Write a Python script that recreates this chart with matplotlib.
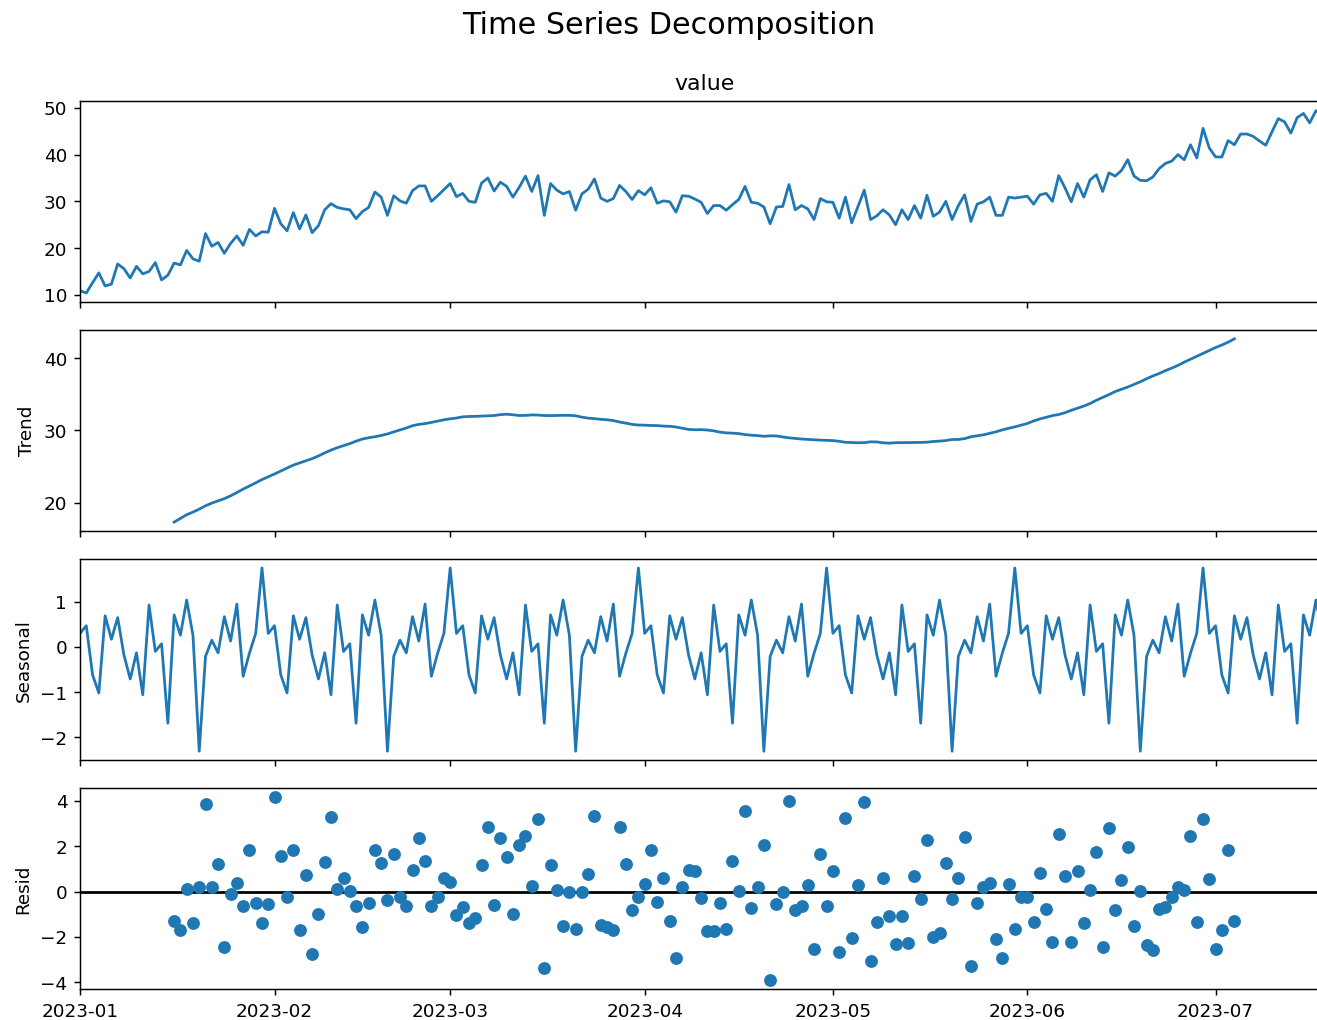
import numpy as np
import pandas as pd
import matplotlib
matplotlib.use("Agg")
from matplotlib import pyplot as plt
import matplotlib.dates as mdates

# daily series, 200 days from 2023-01-01, period 30
start_date = "2023-01-01"
period = 30

observed = [
    10.9, 10.4, 12.6, 14.7, 11.9, 12.3, 16.6, 15.6, 13.6, 16.1,
    14.5, 15.0, 16.9, 13.2, 14.2, 16.8, 16.4, 19.5, 17.7, 17.2,
    23.1, 20.4, 21.2, 18.9, 21.0, 22.6, 20.6, 24.0, 22.6, 23.5,
    23.4, 28.5, 25.2, 23.7, 27.6, 24.1, 27.1, 23.3, 24.8, 28.2,
    29.5, 28.7, 28.4, 28.2, 26.3, 27.8, 28.7, 32.0, 30.9, 27.0,
    31.2, 30.1, 29.6, 32.3, 33.3, 33.3, 30.0, 31.2, 32.5, 33.8,
    31.0, 31.7, 30.0, 29.8, 33.9, 35.0, 32.2, 34.1, 33.2, 30.9,
    33.0, 35.4, 32.1, 35.5, 27.0, 33.8, 32.4, 31.6, 32.1, 28.1,
    31.6, 32.6, 34.8, 30.7, 30.0, 30.6, 33.4, 32.1, 30.4, 32.3,
    31.4, 32.9, 29.6, 30.1, 29.9, 27.7, 31.2, 31.1, 30.5, 29.8,
    27.4, 29.1, 29.1, 28.1, 29.3, 30.4, 33.2, 29.8, 29.6, 28.8,
    25.2, 28.8, 28.9, 33.6, 28.2, 29.1, 28.4, 26.1, 30.6, 29.9,
    29.8, 26.4, 30.9, 25.4, 28.9, 32.4, 26.1, 26.9, 28.2, 27.1,
    25.0, 28.2, 26.1, 29.1, 26.4, 31.3, 26.8, 27.7, 30.0, 26.1,
    29.1, 31.4, 25.7, 29.4, 29.9, 30.9, 27.0, 27.0, 30.9, 30.7,
    30.9, 31.1, 29.4, 31.4, 31.7, 30.0, 35.5, 32.9, 29.9, 33.8,
    30.9, 34.6, 35.7, 32.1, 36.1, 35.4, 36.6, 38.9, 35.4, 34.5,
    34.4, 35.2, 37.0, 38.1, 38.6, 40.0, 38.9, 42.1, 39.3, 45.6,
    41.4, 39.5, 39.5, 43.0, 42.1, 44.4, 44.4, 43.9, 42.9, 42.0,
    44.9, 47.7, 47.0, 44.6, 47.9, 48.8, 46.8, 49.4, 48.3, 49.6,
]

# one seasonal cycle (day 0..29 of each period)
seasonal_cycle = [
    0.30, 0.47, -0.62, -1.02, 0.69, 0.17, 0.65, -0.18, -0.71, -0.13,
    -1.06, 0.93, -0.10, 0.07, -1.69, 0.71, 0.26, 1.04, 0.26, -2.31,
    -0.21, 0.15, -0.13, 0.67, 0.13, 0.95, -0.65, -0.14, 0.30, 1.75,
]

# residuals for days 15..184 (edges undefined)
resid_values = [
    -1.28, -1.68, 0.13, -1.40, 0.18, 3.87, 0.18, 1.20, -2.45, -0.12,
    0.38, -0.64, 1.85, -0.51, -1.40, -0.55, 4.16, 1.56, -0.23, 1.81,
    -1.69, 0.73, -2.77, -0.99, 1.31, 3.28, 0.13, 0.61, 0.01, -0.64,
    -1.58, -0.51, 1.85, 1.26, -0.38, 1.64, -0.26, -0.64, 0.96, 2.34,
    1.33, -0.64, -0.22, 0.61, 0.44, -1.04, -0.67, -1.40, -1.17, 1.17,
    2.83, -0.58, 2.34, 1.52, -0.99, 2.07, 2.44, 0.25, 3.21, -3.36,
    1.15, 0.07, -1.53, 0.00, -1.65, -0.04, 0.79, 3.34, -1.46, -1.55,
    -1.69, 2.86, 1.20, -0.82, -0.23, 0.32, 1.85, -0.45, 0.61, -1.28,
    -2.93, 0.18, 0.96, 0.91, -0.28, -1.75, -1.75, -0.51, -1.65, 1.33,
    0.01, 3.53, -0.74, 0.18, 2.03, -3.91, -0.55, -0.04, 4.00, -0.82,
    -0.63, 0.28, -2.53, 1.64, -0.63, 0.91, -2.67, 3.24, -2.04, 0.28,
    3.94, -3.07, -1.33, 0.61, -1.09, -2.31, -1.07, -2.25, 0.67, -0.35,
    2.28, -2.01, -1.82, 1.26, -0.35, 0.61, 2.39, -3.30, -0.51, 0.18,
    0.36, -2.10, -2.93, 0.32, -1.65, -0.26, -0.26, -1.33, 0.83, -0.76,
    -2.23, 2.55, 0.67, -2.23, 0.91, -1.40, 0.07, 1.74, -2.45, 2.80,
    -0.82, 0.50, 1.97, -1.52, 0.01, -2.35, -2.57, -0.76, -0.70, -0.23,
    0.18, 0.07, 2.44, -1.33, 3.21, 0.54, -2.53, -1.69, 1.81, -1.28,
]

n = len(observed)
dates = pd.date_range(start_date, periods=n, freq="D")
obs = np.array(observed)

# centred 2x30 moving average, like seasonal_decompose
half = period // 2
filt = np.r_[0.5, np.ones(period - 1), 0.5] / period
trend = np.full(n, np.nan)
trend[half:n - half] = np.convolve(obs, filt, mode="valid")

seasonal = np.tile(seasonal_cycle, n // period + 1)[:n]

resid = np.full(n, np.nan)
resid[half:half + len(resid_values)] = resid_values

W, H, DPI = 1317, 1020, 132
fig = plt.figure(figsize=((W + 0.5) / DPI, (H + 0.5) / DPI), dpi=DPI)

left = 80 / W
width = (1328 - 80) / W
tops = [101, 330, 559, 788]
h = 201.5 / H
axes = []
for t in tops:
    ax = fig.add_axes([left, 1 - t / H - h, width, h])
    axes.append(ax)

axes[0].plot(dates, obs)
axes[0].set_title("value")
axes[1].plot(dates, trend)
axes[1].set_ylabel("Trend")
axes[2].plot(dates, seasonal)
axes[2].set_ylabel("Seasonal")
axes[3].plot(dates, resid, marker="o", linestyle="none")
axes[3].plot([dates[0], dates[-1]], [0, 0], color="#000000", zorder=-3)
axes[3].set_ylabel("Resid")

for i, ax in enumerate(axes):
    ax.set_xlim(dates[0], dates[-1])
    ax.xaxis.set_major_locator(mdates.MonthLocator())
    ax.xaxis.set_major_formatter(mdates.DateFormatter("%Y-%m"))
    if i < 3:
        ax.tick_params(labelbottom=False)

fig.suptitle("Time Series Decomposition", fontsize=16.5, x=668.5 / W, y=1 - 11 / H, va="top")

fig.savefig("out.png", dpi=DPI)
